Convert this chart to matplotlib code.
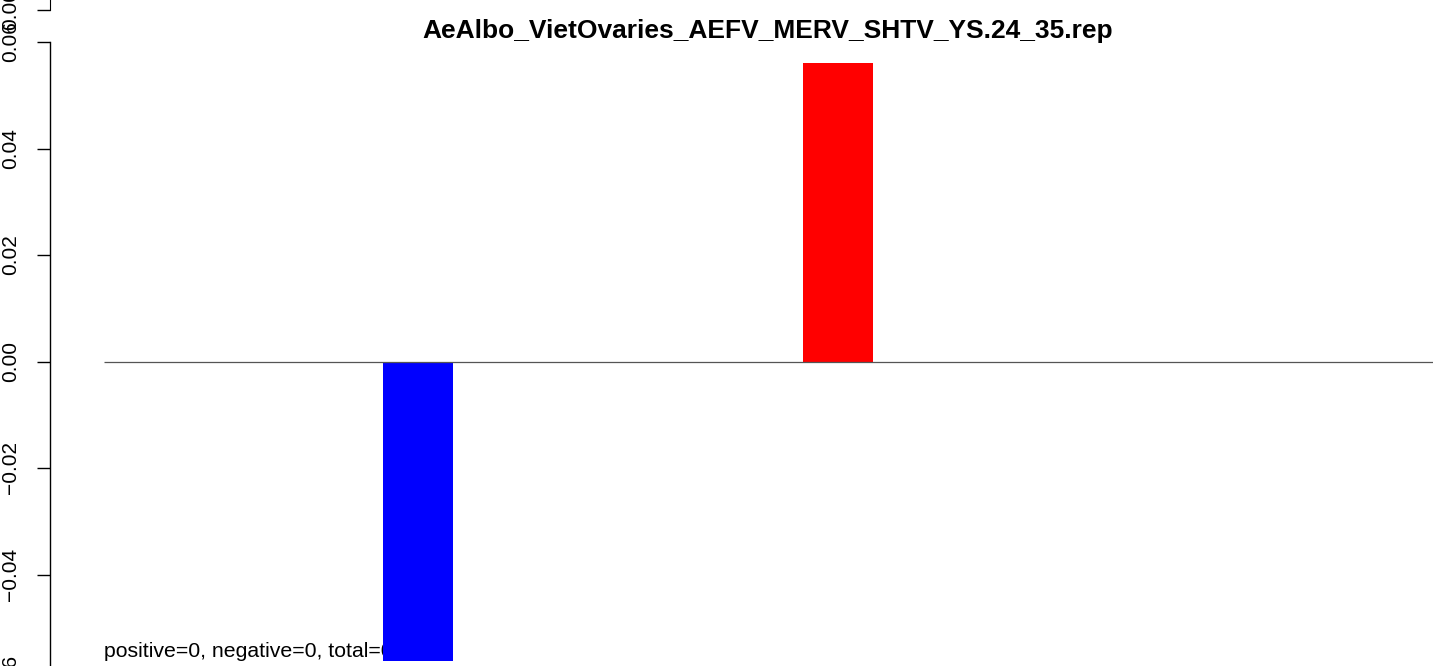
import numpy as np
import matplotlib
matplotlib.use('Agg')
import matplotlib.pyplot as plt

plt.rcParams['font.family'] = ['Liberation Sans', 'DejaVu Sans']

# data
title = 'AeAlbo_VietOvaries_AEFV_MERV_SHTV_YS.24_35.rep'
values = [-0.0562, 0.0560]
colors = ['#0000FF', '#FF0000']
yticks = [-0.06, -0.04, -0.02, 0.00, 0.02, 0.04, 0.06]
note = 'positive=0, negative=0, total=0'

W, H = 1433, 666
fig = plt.figure(figsize=(W / 100, H / 100), dpi=100)

# main panel: y=0.06 at px 42, y=-0.06 at px 681 (runs off the bottom)
left_px, right_px = 50, 1433
top_px, bot_px = 42, 681
ax = fig.add_axes([left_px / W, (H - bot_px) / H,
                   (right_px - left_px) / W, (bot_px - top_px) / H])

x = np.arange(len(values))
ax.bar(x, values, width=1 / 6, color=colors, edgecolor='none', zorder=2)
ax.set_xlim(-0.876, 2.417)
ax.set_ylim(-0.06, 0.06)
ax.hlines(0, -0.748, 2.417, color='#555555', linewidth=0.9, zorder=3)

for s in ['top', 'right', 'bottom']:
    ax.spines[s].set_visible(False)
ax.spines['left'].set_linewidth(1.0)
ax.set_xticks([])
ax.set_yticks(yticks)
ax.set_yticklabels([f'{v:.2f}'.replace('-', '\u2212') for v in yticks],
                   rotation=90, va='center', fontsize=15)
ax.tick_params(axis='y', length=9.5, width=1.0, pad=12)

ax.text(-0.748, -0.0554, note, fontsize=15.3, ha='left', va='baseline', zorder=1)

fig.text(768 / W, 1 - 31 / H, title, fontsize=19, fontweight='bold',
         ha='center', va='center')

# tail of the panel above (bottom tick only)
ax2 = fig.add_axes([left_px / W, (H - 10) / H, (right_px - left_px) / W, 0.2])
ax2.set_ylim(0, 1)
ax2.set_xticks([])
ax2.set_yticks([0])
ax2.set_yticklabels(['0.00'], rotation=90, va='center', fontsize=15)
ax2.tick_params(axis='y', length=9.5, width=1.0, pad=12)
for s in ['top', 'right', 'bottom']:
    ax2.spines[s].set_visible(False)
ax2.patch.set_visible(False)

fig.savefig('out.png', dpi=100)
plt.close(fig)
